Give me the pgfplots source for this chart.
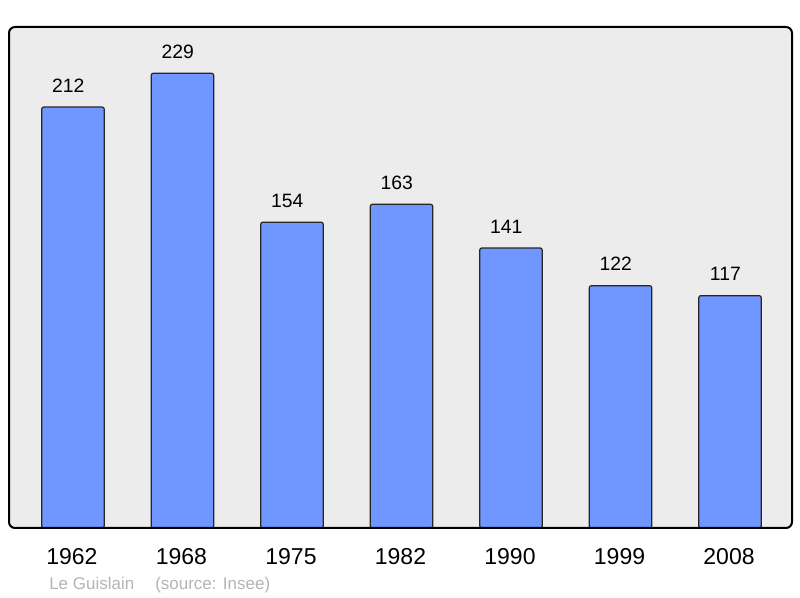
\documentclass[border=0pt]{standalone}
\usepackage{pgfplots}
\pgfplotsset{compat=1.18}
\usepackage{fontspec}
\setmainfont{Liberation Sans}
\definecolor{bgc}{HTML}{ECECEC}
\definecolor{barc}{HTML}{7097FF}
\definecolor{foot}{HTML}{B4B4B4}
\begin{document}
\begin{tikzpicture}
\begin{scope}[x=0.75pt,y=0.75pt]
\path[use as bounding box] (0,0) rectangle (800,598);
\fill[bgc, rounded corners=4.5pt] (9,70) rectangle (792,571);
\end{scope}
\begin{axis}[
  at={(6.75pt,52.5pt)}, anchor=south west,
  scale only axis, width=587.25pt, height=375.75pt,
  xmin=-0.584, xmax=6.566, ymin=0, ymax=252.3,
  /pgf/number format/assume math mode=true,
  axis line style={draw=none},
  major tick length=0pt,
  ytick=\empty,
  xtick={0,1,2,3,4,5,6},
  xticklabels={1962,1968,1975,1982,1990,1999,2008},
  xticklabel style={anchor=base, yshift=-27.75pt, xshift=-0.75pt, font=\fontsize{17.25}{20}\selectfont},
  ybar, bar width=0.57,
  nodes near coords,
  every node near coord/.append style={anchor=base, yshift=11.25pt, xshift=-3.5pt, font=\fontsize{14.5}{17}\selectfont, text=black},
  clip=false,
]
\addplot[fill=barc, draw=black!85, line width=0.9pt, rounded corners=1.5pt] coordinates {
(0,212) (1,229) (2,154) (3,163) (4,141) (5,122) (6,117)};
\end{axis}
\begin{scope}[x=0.75pt,y=0.75pt]
\draw[line width=1.5pt, rounded corners=4.5pt] (9,70) rectangle (792,571);
\node[anchor=base west, inner sep=0, text=foot, font=\fontsize{12.75}{15}\selectfont] at (49,8) {Le Guislain};
\node[anchor=base west, inner sep=0, text=foot, font=\fontsize{12.75}{15}\selectfont] at (155,8) {(source: Insee)};
\end{scope}
\end{tikzpicture}
\end{document}
